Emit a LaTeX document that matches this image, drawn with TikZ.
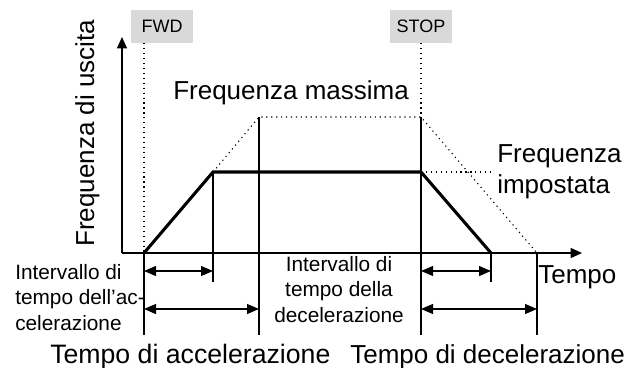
\documentclass[tikz,border=0pt]{standalone}
\usepackage{fontspec}
\setmainfont{Liberation Sans}
\usetikzlibrary{
    arrows.meta
}

\begin{document}
\begin{tikzpicture}[
    x=0.75pt,
    y=-0.75pt,
    font=\fontsize{19.5}{23}\selectfont,
    axis/.style={
        -{Triangle[length=8.5pt,width=7.5pt]},
        line width=1pt,
        draw=black
    },
    curve/.style={
        line width=2.3pt,
        line join=miter,
        draw=black
    },
    guide/.style={
        line width=0.8pt,
        dash pattern=on 0.9pt off 2.8pt,
        draw=black
    },
    rule/.style={
        line width=0.8pt,
        draw=black
    },
    span/.style={
        {Triangle[length=9pt,width=7.5pt]}-{Triangle[length=9pt,width=7.5pt]},
        line width=0.8pt,
        draw=black
    },
    signal/.style={
        rectangle,
        fill=black!15,
        minimum width=46.5pt,
        minimum height=24.75pt,
        inner sep=0pt,
        font=\fontsize{13.5}{16}\selectfont
    },
    caption/.style={
        inner sep=0pt
    },
    note/.style={
        inner sep=0pt,
        font=\fontsize{15.6}{19.1}\selectfont
    }
]
\useasboundingbox (0,0) rectangle (630,367);

% =========================================================
% Key points of the frequency profile
% =========================================================
\coordinate (origin) at (122,253);
\coordinate (ytip)   at (122,37);
\coordinate (xtip)   at (582,253);

\coordinate (start)  at (144,253);
\coordinate (reach)  at (213,172);
\coordinate (stopset) at (421,172);
\coordinate (zero)   at (491,253);

\coordinate (maxup)   at (259,117);
\coordinate (maxstop) at (421,117);
\coordinate (maxzero) at (537,253);
\coordinate (setend)  at (492,172);

% =========================================================
% Run / stop signals
% =========================================================
\node[signal] (fwd)  at (162,26.5) {FWD};
\node[signal] (stop) at (421,26.5) {STOP};

% =========================================================
% Dotted guides
% =========================================================
\draw[guide] (fwd.south -| start) -- (start);
\draw[guide] (stop.south) -- (maxstop);
\draw[guide] (reach) -- (maxup) -- (maxstop) -- (maxzero);
\draw[guide] (stopset) -- (setend);

% =========================================================
% Time marks
% =========================================================
\draw[rule] (start) -- ++(0,82);
\draw[rule] (reach) -- ++(0,110);
\draw[rule] (maxup) -- ++(0,218);
\draw[rule] (maxstop) -- ++(0,218);
\draw[rule] (zero) -- ++(0,29);
\draw[rule] (maxzero) -- ++(0,82);

\draw[span] (start) ++(0,18) -- (reach |- 0,271);
\draw[span] (start) ++(0,56) -- (maxup |- 0,309);
\draw[span] (maxstop |- 0,271) -- (zero |- 0,271);
\draw[span] (maxstop |- 0,309) -- (maxzero |- 0,309);

% =========================================================
% Output frequency and axes
% =========================================================
\draw[curve] (start) -- (reach) -- (stopset) -- (zero);

\draw[axis] (origin) -- (ytip);
\draw[axis] (origin) -- (xtip);

% =========================================================
% Labels
% =========================================================
\node[caption, anchor=base west, rotate=90] (fout) at (94,247) {Frequenza di uscita};
\node[caption, anchor=base west] (fmax) at (173,100) {Frequenza massima};
\node[caption, anchor=base west, align=left] (fset) at (497,193) {Frequenza\\impostata};
\node[caption, anchor=base west] (tempo) at (538,283) {Tempo};

\node[note, anchor=base west, align=left] (accnote) at (15,330)
{Intervallo di\\tempo dell’ac-\\celerazione};
\node[note, anchor=base, align=center] (decnote) at (339,322)
{Intervallo di\\tempo della\\decelerazione};

\node[caption, anchor=base west, font=\fontsize{20}{24}\selectfont] (tacc) at (50,363) {Tempo di accelerazione};
\node[caption, anchor=base west, font=\fontsize{19.5}{24}\selectfont] (tdec) at (350,363) {Tempo di decelerazione};

\end{tikzpicture}
\end{document}
